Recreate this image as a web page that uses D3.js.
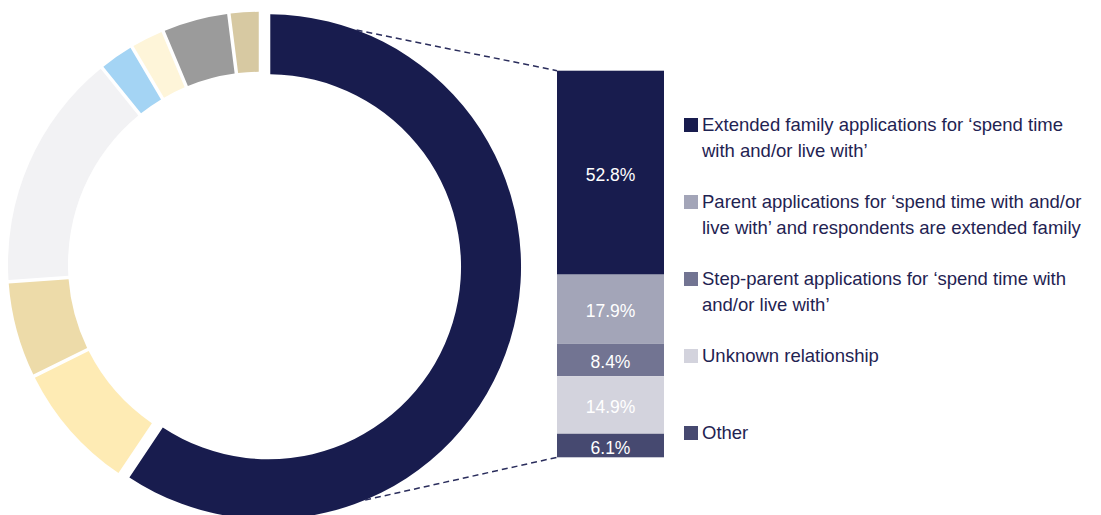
<!DOCTYPE html>
<html>
<head>
<meta charset="utf-8">
<script src="https://cdn.jsdelivr.net/npm/d3@7"></script>
<style>
  html, body { margin: 0; padding: 0; background: #ffffff; }
  svg { display: block; }
  text { font-family: "Liberation Sans", Arial, sans-serif; }
</style>
</head>
<body>
<svg id="chart" width="1101" height="515"></svg>
<script>
// Donut: share of applications by applicant type (clockwise from 12 o'clock)
const donutValues = [59.4, 8.3, 6.2, 15.3, 2.3, 2.2, 4.3, 2.0];
const donutColors = ["#181C4E", "#FEEBB4", "#EDDBA9", "#F2F2F4", "#A4D4F4", "#FEF5D9", "#9B9B9B", "#D7C9A2"];

// Breakdown of the first donut slice
const barValues = [52.8, 17.9, 8.4, 14.9, 6.1];
const barLabels = ["52.8%", "17.9%", "8.4%", "14.9%", "6.1%"];
const barColors = ["#181C4E", "#A3A5B8", "#727492", "#D3D3DD", "#464970"];

const legendLines = [
  ["Extended family applications for \u2018spend time", "with and/or live with\u2019"],
  ["Parent applications for \u2018spend time with and/or", "live with\u2019 and respondents are extended family"],
  ["Step-parent applications for \u2018spend time with", "and/or live with\u2019"],
  ["Unknown relationship"],
  ["Other"]
];

const svg = d3.select("#chart");
const textColor = "#1F2352";

// ---- donut ----
const cx = 260.5, cy = 264.3;
const outerR = 252.5, innerR = 192.5;
const explode = 8.4;

const pie = d3.pie().sort(null).value(d => d);
const arc = d3.arc().innerRadius(innerR).outerRadius(outerR).padAngle(0.011);
const arcs = pie(donutValues);

const donut = svg.append("g").attr("transform", `translate(${cx},${cy})`);
donut.selectAll("path")
  .data(arcs)
  .join("path")
  .attr("d", arc)
  .attr("fill", (d, i) => donutColors[i])
  .attr("transform", (d, i) => {
    if (i !== 0) return null;
    const mid = (d.startAngle + d.endAngle) / 2;
    return `translate(${explode * Math.sin(mid)},${-explode * Math.cos(mid)})`;
  });

// ---- stacked bar ----
const barX0 = 557, barX1 = 664;
const total = d3.sum(barValues);
const y = d3.scaleLinear().domain([0, total]).range([70.7, 457.3]);
const stacked = [];
let acc = 0;
barValues.forEach((v, i) => { stacked.push({ v, i, y0: acc, y1: acc + v }); acc += v; });

const bar = svg.append("g");
bar.selectAll("rect")
  .data(stacked)
  .join("rect")
  .attr("x", barX0)
  .attr("width", barX1 - barX0)
  .attr("y", d => y(d.y0))
  .attr("height", d => y(d.y1) - y(d.y0))
  .attr("fill", d => barColors[d.i]);

bar.selectAll("text")
  .data(stacked)
  .join("text")
  .attr("x", (barX0 + barX1) / 2)
  .attr("y", d => (y(d.y0) + y(d.y1)) / 2 + 2)
  .attr("dy", "0.35em")
  .attr("text-anchor", "middle")
  .attr("font-size", 17.5)
  .attr("fill", "#ffffff")
  .text(d => barLabels[d.i]);

// ---- connector lines from the exploded slice to the bar ----
const first = arcs[0];
const mid0 = (first.startAngle + first.endAngle) / 2;
const ox = cx + explode * Math.sin(mid0), oy = cy - explode * Math.cos(mid0);
const connectorAngles = [20.4, 157.5].map(a => a * Math.PI / 180);
const barEnds = [[barX0, y(0)], [barX0, y(total)]];
connectorAngles.forEach((a, k) => {
  svg.append("line")
    .attr("x1", ox + outerR * Math.sin(a))
    .attr("y1", oy - outerR * Math.cos(a))
    .attr("x2", barEnds[k][0])
    .attr("y2", barEnds[k][1])
    .attr("stroke", "#2A2D5C")
    .attr("stroke-width", 1.5)
    .attr("stroke-dasharray", "6,4");
});

// ---- legend ----
const legend = svg.append("g");
const legendX = 684, legendY0 = 130.5, legendStep = 77, lineH = 26;
legendLines.forEach((lines, i) => {
  const by = legendY0 + i * legendStep;
  legend.append("rect")
    .attr("x", legendX)
    .attr("y", by - 12.5)
    .attr("width", 14)
    .attr("height", 14)
    .attr("fill", barColors[i]);
  const t = legend.append("text")
    .attr("x", legendX + 18)
    .attr("y", by)
    .attr("font-size", 18.5)
    .attr("fill", textColor);
  lines.forEach((ln, j) => {
    t.append("tspan").attr("x", legendX + 18).attr("y", by + j * lineH).text(ln);
  });
});
</script>
</body>
</html>
